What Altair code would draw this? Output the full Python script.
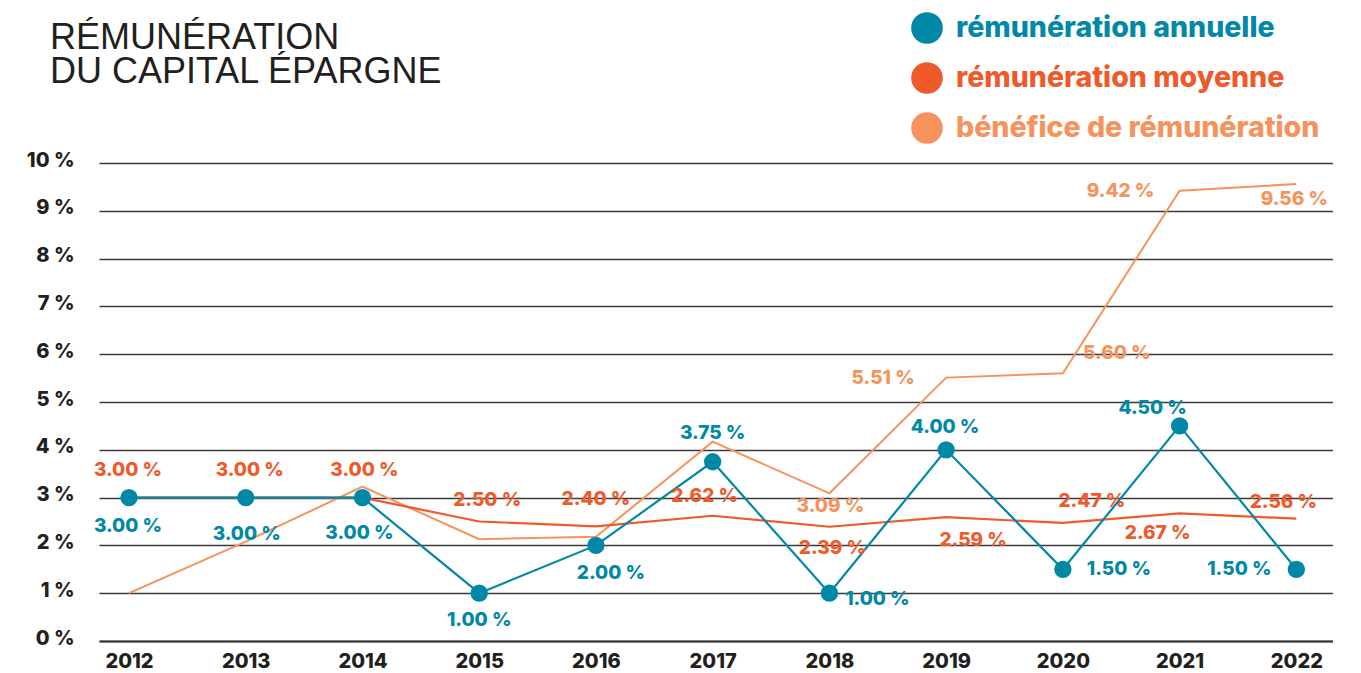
import altair as alt
import pandas as pd

# ---- data ----
years = [2012, 2013, 2014, 2015, 2016, 2017, 2018, 2019, 2020, 2021, 2022]
annuelle = [3.00, 3.00, 3.00, 1.00, 2.00, 3.75, 1.00, 4.00, 1.50, 4.50, 1.50]
moyenne = [3.00, 3.00, 3.00, 2.50, 2.40, 2.62, 2.39, 2.59, 2.47, 2.67, 2.56]
benefice = [1.00, 2.08, 3.23, 2.13, 2.18, 4.17, 3.09, 5.51, 5.60, 9.42, 9.56]
benefice_shown = [False, False, False, False, False, False, True, True, True, True, True]

series_names = ["rémunération annuelle", "rémunération moyenne", "bénéfice de rémunération"]
colors = ["#0088a6", "#ef5a2b", "#f6935c"]
y_ticks = list(range(0, 11))

# label offsets (pixels) relative to each point
off_annuelle = [(-1, 28), (1, 36), (-3, 35), (0, 27), (15, 28), (0, -29), (48, 6), (-1, -23), (56, 0), (-27, -18), (-57, 0)]
off_moyenne = [(-1, -28), (4, -28), (2, -28), (8, -22), (0, -27), (-8, -20), (3, 21), (27, 23), (29, -22), (-22, 20), (-13, -17)]
off_benefice = [(0, 0)] * 6 + [(1, 13), (-63, 0), (54, -20), (-59, 0), (-2, 15)]

FONT = "Inter"


def frame(vals, name):
    return pd.DataFrame({"year": years, "value": vals, "series": name})


df_a = frame(annuelle, series_names[0])
df_m = frame(moyenne, series_names[1])
df_b = frame(benefice, series_names[2])


def label_frame(df, offs, shown=None):
    d = df.copy()
    d["label"] = [f"{v:.2f} %" for v in d["value"]]
    d["dx"] = [o[0] for o in offs]
    d["dy"] = [o[1] for o in offs]
    if shown is not None:
        d = d[shown]
    return d


lab_a = label_frame(df_a, off_annuelle)
lab_m = label_frame(df_m, off_moyenne)
lab_b = label_frame(df_b, off_benefice, benefice_shown)

x_enc = alt.X(
    "year:Q",
    scale=alt.Scale(domain=[2011.743, 2022.314], nice=False, zero=False),
    axis=alt.Axis(
        values=years, format="d", title=None, grid=False, ticks=False,
        domain=True, domainColor="#333333", domainWidth=2.2,
        labelFont=FONT, labelFontSize=20, labelFontWeight=800, labelColor="#231f20",
        labelPadding=10, labelBaseline="top",
    ),
)
y_enc = alt.Y(
    "value:Q",
    scale=alt.Scale(domain=[0, 10], nice=False, zero=True),
    axis=alt.Axis(
        values=y_ticks, labelExpr="datum.value + ' %'", title=None, ticks=False,
        domain=False, grid=True, gridColor="#3a3a3a", gridWidth=1.3,
        labelFont=FONT, labelFontSize=20, labelFontWeight=800, labelColor="#231f20",
        labelPadding=25, labelOffset=-3,
    ),
)


def line(df, color, width):
    return alt.Chart(df).mark_line(color=color, strokeWidth=width).encode(x=x_enc, y=y_enc)


def texts(df, color):
    return alt.Chart(df).mark_text(
        font=FONT, fontSize=19, fontWeight=800, color=color,
        align="center", baseline="middle",
        dx=alt.ExprRef("datum.dx"), dy=alt.ExprRef("datum.dy"),
    ).encode(x=x_enc, y=y_enc, text="label:N")


label_color_expr = (
    f"datum.value === '{series_names[0]}' ? '{colors[0]}' : "
    f"datum.value === '{series_names[1]}' ? '{colors[1]}' : '{colors[2]}'"
)

points = alt.Chart(df_a).mark_circle(size=300, opacity=1).encode(
    x=x_enc,
    y=y_enc,
    color=alt.Color(
        "series:N",
        scale=alt.Scale(domain=series_names, range=colors),
        legend=alt.Legend(
            title=None, orient="none", legendX=812, legendY=-151,
            symbolType="circle", symbolSize=1000, symbolStrokeWidth=0, symbolOpacity=1,
            labelFont=FONT, labelFontSize=28.5, labelFontWeight=800,
            labelColor=alt.ExprRef(label_color_expr),
            labelOffset=13, rowPadding=18, labelLimit=600,
        ),
    ),
)

chart = alt.layer(
    line(df_b, colors[2], 2),
    line(df_m, colors[1], 2.2),
    line(df_a, colors[0], 2.2),
    points,
    texts(lab_b, colors[2]),
    texts(lab_m, colors[1]),
    texts(lab_a, colors[0]),
).properties(
    width=1234,
    height=478,
    title=alt.TitleParams(
        text=["RÉMUNÉRATION", "DU CAPITAL ÉPARGNE"],
        anchor="start", frame="group", font="Liberation Sans", fontWeight="normal",
        fontSize=36, lineHeight=34, color="#231f20", dx=-49, dy=115,
        offset=0, baseline="bottom",
    ),
    autosize=alt.AutoSizeParams(type="none"),
    padding={"left": 91, "top": 155, "right": 0, "bottom": 32},
).configure_view(stroke=None)

chart.save("out.html", embed_options={"renderer": "svg", "actions": False})
